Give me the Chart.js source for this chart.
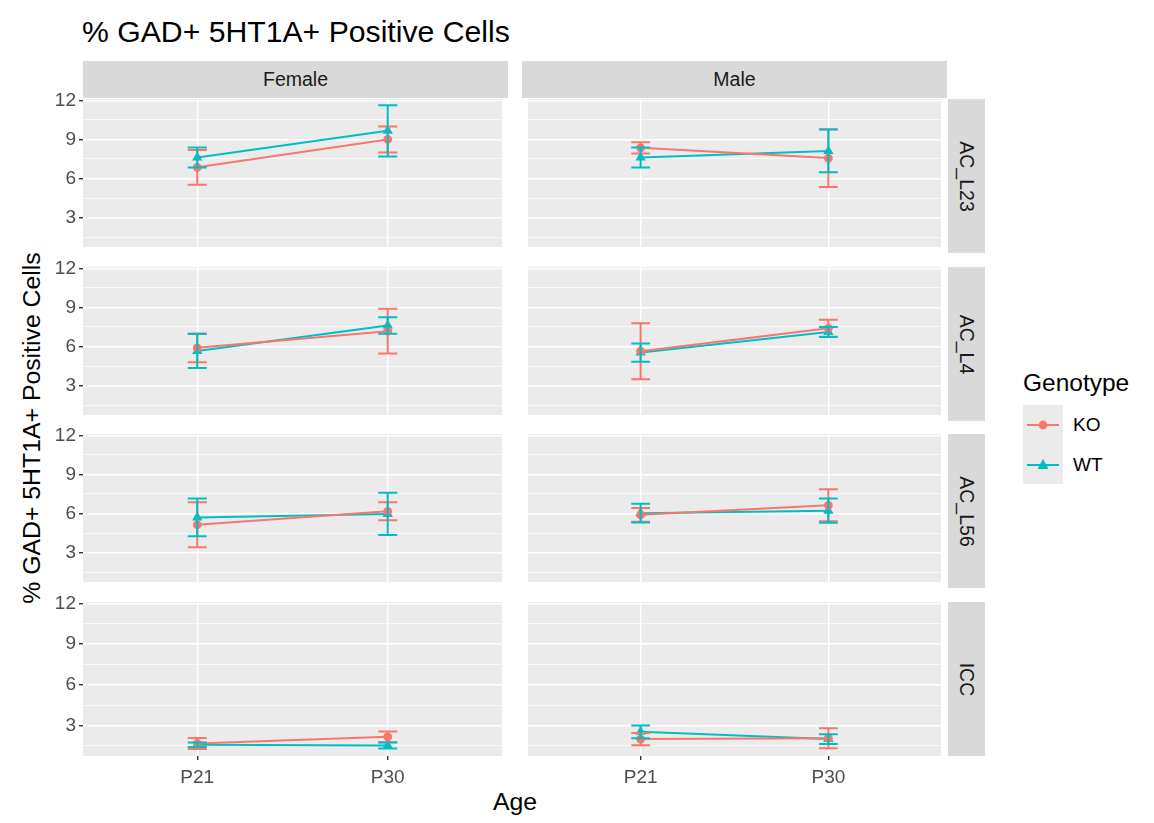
<!DOCTYPE html>
<html>
<head>
<meta charset="utf-8">
<script src="https://cdn.jsdelivr.net/npm/chart.js@4.4.1/dist/chart.umd.min.js"></script>
<style>
  body { margin: 0; background: #fff; font-family: "Liberation Sans", Arial, sans-serif; }
  #wrap { position: relative; width: 1154px; height: 823px; overflow: hidden; }
  .abs { position: absolute; white-space: nowrap; }
  canvas { position: absolute; }
  .strip { position: absolute; background: #d9d9d9; color: #1a1a1a; font-size: 19.5px;
           display: flex; align-items: center; justify-content: center; }
  .vstrip span { transform: rotate(90deg); white-space: nowrap; }
</style>
</head>
<body>
<div id="wrap">
  <div class="abs" style="left:82px; top:32px; font-size:30.2px; color:#000; transform: translateY(-50%);">% GAD+ 5HT1A+ Positive Cells</div>
  <div class="abs" style="left:32px; top:428px; font-size:24.8px; color:#000; transform: translate(-50%, -50%) rotate(-90deg);">% GAD+ 5HT1A+ Positive Cells</div>
  <div class="abs" style="left:515px; top:802px; font-size:24.8px; color:#000; transform: translate(-50%, -50%);">Age</div>

  <div class="abs" style="left:1023px; top:383px; font-size:24.5px; color:#000; transform: translateY(-50%);">Genotype</div>
  <canvas id="legendKeys" width="40" height="79" style="left:1023px; top:405px;"></canvas>
  <div class="abs" style="left:1073px; top:425px; font-size:19px; color:#000; transform: translateY(-50%);">KO</div>
  <div class="abs" style="left:1073px; top:465px; font-size:19px; color:#000; transform: translateY(-50%);">WT</div>
</div>

<script>
// ---- data ----
const ages = ["P21", "P30"];
const sexes = ["Female", "Male"];
const regions = ["AC_L23", "AC_L4", "AC_L56", "ICC"];
const genotypes = ["KO", "WT"];

const yMajor = [3, 6, 9, 12];
const yMinor = [1.5, 4.5, 7.5, 10.5];

// one row per region, [P21, P30]
const koFemaleMean = [[6.86, 9.0], [5.9, 7.18], [5.14, 6.17], [1.67, 2.16]];
const koFemaleErr  = [[1.33, 1.0], [1.1, 1.72], [1.72, 0.69], [0.41, 0.4]];
const wtFemaleMean = [[7.62, 9.66], [5.66, 7.61], [5.7, 5.97], [1.58, 1.52]];
const wtFemaleErr  = [[0.77, 1.97], [1.31, 0.63], [1.45, 1.62], [0.16, 0.22]];
const koMaleMean   = [[8.36, 7.57], [5.64, 7.4], [5.9, 6.63], [2.0, 2.06]];
const koMaleErr    = [[0.43, 2.21], [2.15, 0.65], [0.52, 1.23], [0.45, 0.74]];
const wtMaleMean   = [[7.62, 8.12], [5.54, 7.12], [6.03, 6.22], [2.53, 2.0]];
const wtMaleErr    = [[0.77, 1.64], [0.7, 0.38], [0.72, 0.93], [0.47, 0.36]];

const KO_COLOR = "#F8766D";
const WT_COLOR = "#00BFC4";
const FONT = "'Liberation Sans', Arial, sans-serif";

// ---- layout ----
const PANEL_X = [83, 522];
const PANEL_W = 425;
const PANEL_Y = [99, 267, 434, 602];
const PANEL_H = 154;
const Y_AXIS_W = 43;
const X_AXIS_H = 36;
const PAD_TOP = 14;
const Y_MIN = 0.75, Y_MAX = 12.1;
const CAP = 0.05;

const wrap = document.getElementById("wrap");

// strips
sexes.forEach((s, c) => {
  const d = document.createElement("div");
  d.className = "strip";
  d.style.left = PANEL_X[c] + "px";
  d.style.top = "61px";
  d.style.width = PANEL_W + "px";
  d.style.height = "37px";
  d.textContent = s;
  wrap.appendChild(d);
});
regions.forEach((r, i) => {
  const d = document.createElement("div");
  d.className = "strip vstrip";
  d.style.left = (PANEL_X[1] + PANEL_W + 1) + "px";
  d.style.top = PANEL_Y[i] + "px";
  d.style.width = "37px";
  d.style.height = PANEL_H + "px";
  const sp = document.createElement("span");
  sp.textContent = r;
  d.appendChild(sp);
  wrap.appendChild(d);
});

const errorBars = {
  id: "errorBars",
  afterDatasetsDraw(chart) {
    const { ctx } = chart;
    const x = chart.scales.x, y = chart.scales.y;
    ctx.save();
    chart.data.datasets.forEach(ds => {
      ctx.strokeStyle = ds.borderColor;
      ctx.lineWidth = 2;
      ds.data.forEach(p => {
        const px = x.getPixelForValue(p.x);
        const x0 = x.getPixelForValue(p.x - CAP);
        const x1 = x.getPixelForValue(p.x + CAP);
        const yt = y.getPixelForValue(p.y + p.err);
        const yb = y.getPixelForValue(p.y - p.err);
        ctx.beginPath();
        ctx.moveTo(px, yt); ctx.lineTo(px, yb);
        ctx.moveTo(x0, yt); ctx.lineTo(x1, yt);
        ctx.moveTo(x0, yb); ctx.lineTo(x1, yb);
        ctx.stroke();
      });
    });
    ctx.restore();
  }
};

function series(mean, err) {
  return mean.map((v, i) => ({ x: i + 1, y: v, err: err[i] }));
}

function makePanel(row, col) {
  const canvas = document.createElement("canvas");
  const w = PANEL_W + (col === 0 ? Y_AXIS_W : 0);
  const h = PAD_TOP + PANEL_H + (row === 3 ? X_AXIS_H : 0);
  canvas.width = w;
  canvas.height = h;
  canvas.style.left = (PANEL_X[col] - (col === 0 ? Y_AXIS_W : 0)) + "px";
  canvas.style.top = (PANEL_Y[row] - PAD_TOP) + "px";
  wrap.appendChild(canvas);

  const ko = col === 0 ? series(koFemaleMean[row], koFemaleErr[row]) : series(koMaleMean[row], koMaleErr[row]);
  const wt = col === 0 ? series(wtFemaleMean[row], wtFemaleErr[row]) : series(wtMaleMean[row], wtMaleErr[row]);

  new Chart(canvas, {
    type: "line",
    data: {
      datasets: [
        { label: genotypes[0], data: ko, borderColor: KO_COLOR, backgroundColor: KO_COLOR,
          borderWidth: 2, pointStyle: "circle", pointRadius: 4.4, pointBorderWidth: 0 },
        { label: genotypes[1], data: wt, borderColor: WT_COLOR, backgroundColor: WT_COLOR,
          borderWidth: 2, pointStyle: "triangle", pointRadius: 6, pointBorderWidth: 0 }
      ]
    },
    options: {
      responsive: false,
      animation: false,
      layout: { padding: { top: PAD_TOP, left: 0, right: 0, bottom: 0 } },
      plugins: { legend: { display: false }, tooltip: { enabled: false } },
      scales: {
        x: {
          type: "linear", min: 0.4, max: 2.6,
          afterBuildTicks: s => { s.ticks = ages.map((a, i) => ({ value: i + 1 })); },
          afterFit: s => { s.height = row === 3 ? X_AXIS_H : 0; s.paddingLeft = 0; s.paddingRight = 0; },
          border: { display: false },
          grid: { color: "#ffffff", lineWidth: 1.4, drawTicks: row === 3, tickColor: "#333333", tickLength: 4, tickWidth: 1.4 },
          ticks: { display: row === 3, autoSkip: false, maxRotation: 0, padding: 6,
                   color: "#4d4d4d", font: { size: 19, family: FONT },
                   callback: v => ages[v - 1] }
        },
        y: {
          min: Y_MIN, max: Y_MAX,
          afterBuildTicks: s => { s.ticks = yMinor.concat(yMajor).sort((a, b) => a - b).map(v => ({ value: v })); },
          afterFit: s => { s.width = col === 0 ? Y_AXIS_W : 0; s.paddingTop = 0; s.paddingBottom = 0; },
          border: { display: false },
          grid: {
            color: "#ffffff",
            lineWidth: c => yMajor.includes(c.tick.value) ? 1.4 : 0.7,
            drawTicks: col === 0,
            tickLength: 4,
            tickWidth: 1.4,
            tickColor: c => yMajor.includes(c.tick.value) ? "#333333" : "rgba(0,0,0,0)"
          },
          ticks: { display: col === 0, autoSkip: false, padding: 3,
                   color: "#4d4d4d", font: { size: 19, family: FONT },
                   callback: v => yMajor.includes(v) ? String(v) : "" }
        }
      }
    },
    plugins: [{
      id: "panelBg",
      beforeDraw(chart) {
        const a = chart.chartArea;
        chart.ctx.save();
        chart.ctx.fillStyle = "#ebebeb";
        chart.ctx.fillRect(a.left, a.top, a.right - a.left, a.bottom - a.top);
        chart.ctx.restore();
      }
    }, errorBars]
  });
}

for (let r = 0; r < regions.length; r++) {
  for (let c = 0; c < sexes.length; c++) makePanel(r, c);
}

// legend keys
const lg = document.getElementById("legendKeys").getContext("2d");
lg.fillStyle = "#ebebeb";
lg.fillRect(0, 0, 40, 79);
[[KO_COLOR, 20, "circle"], [WT_COLOR, 60, "triangle"]].forEach(([col, cy, shape]) => {
  lg.strokeStyle = col; lg.fillStyle = col; lg.lineWidth = 2;
  lg.beginPath(); lg.moveTo(4, cy); lg.lineTo(36, cy); lg.stroke();
  lg.beginPath();
  if (shape === "circle") lg.arc(20, cy, 4.4, 0, Math.PI * 2);
  else { lg.moveTo(20, cy - 6); lg.lineTo(25.5, cy + 4); lg.lineTo(14.5, cy + 4); lg.closePath(); }
  lg.fill();
});
</script>
</body>
</html>
